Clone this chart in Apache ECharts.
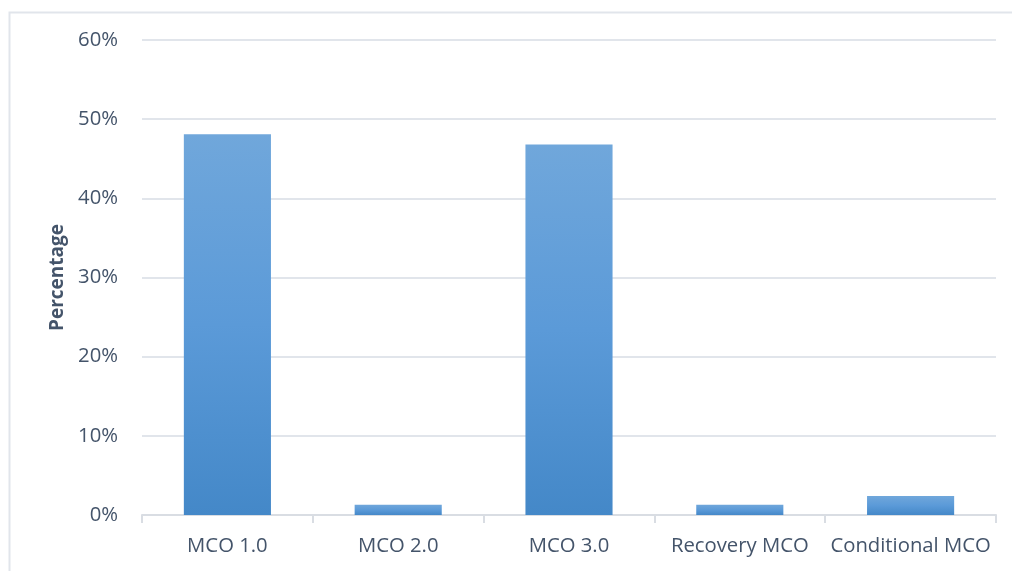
<!DOCTYPE html>
<html>
<head>
<meta charset="utf-8">
<script src="https://cdn.jsdelivr.net/npm/echarts@6/dist/echarts.min.js"></script>
<style>
  html, body { margin: 0; padding: 0; background: #ffffff; }
  #chart { width: 1012px; height: 571px; }
</style>
</head>
<body>
<div id="chart"></div>
<script>
// Share of cases recorded under each movement control phase
const categories = ['MCO 1.0', 'MCO 2.0', 'MCO 3.0', 'Recovery MCO', 'Conditional MCO'];
const percentages = [48.1, 1.3, 46.8, 1.3, 2.4];
const yTicks = [0, 10, 20, 30, 40, 50, 60];

const textColor = '#44546a';
const lineColor = '#e1e5eb';

const chart = echarts.init(document.getElementById('chart'), null, { renderer: 'canvas' });

chart.setOption({
  animation: false,
  backgroundColor: '#ffffff',
  graphic: [{
    type: 'rect',
    left: 7,
    top: 10,
    shape: { width: 1020, height: 580 },
    style: { fill: 'none', stroke: lineColor, lineWidth: 2 },
    silent: true
  }],
  grid: { left: 142, right: 16, top: 40, bottom: 56, containLabel: false },
  xAxis: {
    type: 'category',
    data: categories,
    axisLine: { show: true, lineStyle: { color: '#d9dde3', width: 2 } },
    axisTick: { show: true, length: 8, lineStyle: { color: '#d9dde3', width: 2 } },
    axisLabel: {
      color: textColor,
      fontFamily: 'Open Sans',
      fontSize: 20.3,
      margin: 21,
      interval: 0
    }
  },
  yAxis: {
    type: 'value',
    min: yTicks[0],
    max: yTicks[yTicks.length - 1],
    interval: 10,
    name: 'Percentage',
    nameLocation: 'middle',
    nameGap: 75,
    nameRotate: 90,
    nameTextStyle: {
      color: textColor,
      fontFamily: 'Open Sans',
      fontSize: 19,
      fontWeight: 'bold'
    },
    axisLine: { show: false },
    axisTick: { show: false },
    splitLine: { show: true, lineStyle: { color: lineColor, width: 2 } },
    axisLabel: {
      color: textColor,
      fontFamily: 'Open Sans',
      fontSize: 20.3,
      margin: 24,
      formatter: v => v + '%'
    }
  },
  series: [{
    type: 'bar',
    data: percentages,
    barCategoryGap: '49%',
    itemStyle: {
      color: new echarts.graphic.LinearGradient(0, 0, 0, 1, [
        { offset: 0, color: '#70a7db' },
        { offset: 0.5, color: '#5b9ad8' },
        { offset: 1, color: '#4488c8' }
      ])
    }
  }]
});
</script>
</body>
</html>
